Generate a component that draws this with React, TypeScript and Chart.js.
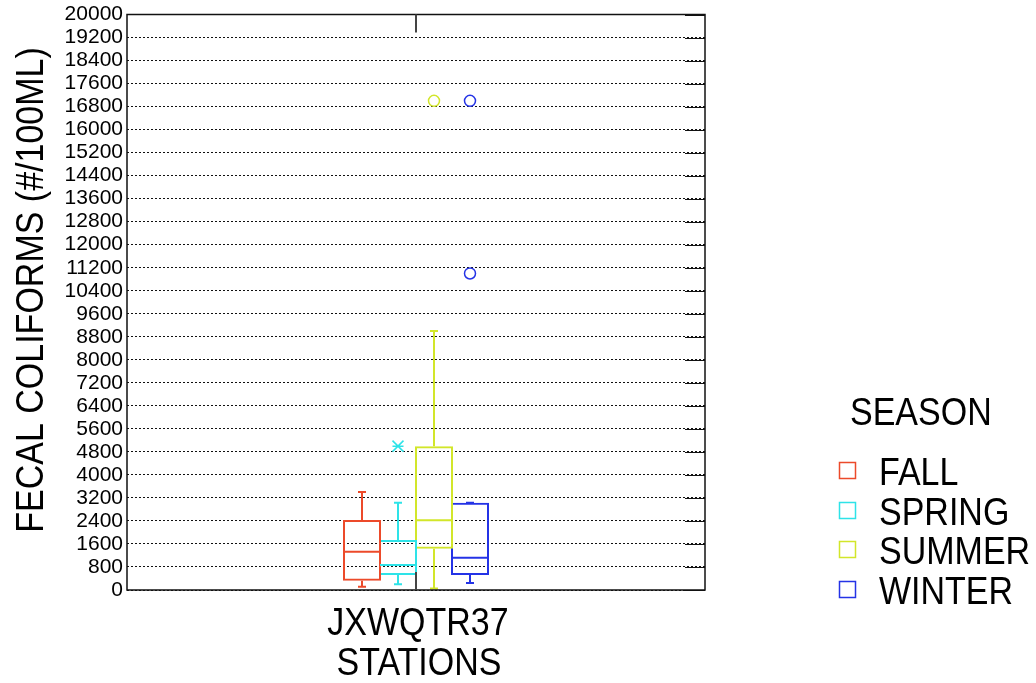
import React, { useEffect, useRef } from 'react';
import { Chart, registerables } from 'chart.js';

Chart.register(...registerables);

const categories = ['JXWQTR37'];
const seasons = ['FALL', 'SPRING', 'SUMMER', 'WINTER'];
const seasonColors = ['#ec4a2a', '#2ee3e8', '#d2e62a', '#2433e6'];
const whiskerLow = [115, 200, 50, 240];
const q1 = [320, 520, 1430, 520];
const median = [1330, 870, 2420, 1120];
const q3 = [2430, 1740, 5000, 3030];
const whiskerHigh = [3410, 3030, 9000, 3030];
const outliers: number[][] = [[], [5000], [17000], [17000, 11000]];
const outlierMarks: string[][] = [[], ['star'], ['circle'], ['circle', 'circle']];
const yTicks = [
  0, 800, 1600, 2400, 3200, 4000, 4800, 5600, 6400, 7200, 8000, 8800, 9600,
  10400, 11200, 12000, 12800, 13600, 14400, 15200, 16000, 16800, 17600, 18400,
  19200, 20000,
];
const xTitle = 'STATIONS';
const yTitle = 'FECAL COLIFORMS (#/100ML)';
const legendTitle = 'SEASON';

const FONT = "'Liberation Sans', Arial, sans-serif";
const STRETCH = 1.15;

function stretchedText(ctx: CanvasRenderingContext2D, text: string, x: number, y: number, align: CanvasTextAlign, rotate = 0) {
  ctx.save();
  ctx.translate(x, y);
  if (rotate) ctx.rotate(rotate);
  ctx.scale(1, STRETCH);
  ctx.font = `34px ${FONT}`;
  ctx.fillStyle = '#000';
  ctx.textAlign = align;
  ctx.textBaseline = 'alphabetic';
  ctx.fillText(text, 0, 0);
  ctx.restore();
}

const boxPlugin = {
  id: 'boxExtras',
  afterDatasetsDraw(chart: any) {
    const ctx: CanvasRenderingContext2D = chart.ctx;
    const ys = chart.scales.y;
    seasons.forEach((_s, i) => {
      const bar = chart.getDatasetMeta(i).data[0];
      if (!bar) return;
      const x = Math.round(bar.x);
      const half = bar.width / 2 - 1;
      const col = seasonColors[i];
      ctx.save();
      ctx.strokeStyle = col;
      ctx.lineWidth = 2;
      const ym = ys.getPixelForValue(median[i]);
      ctx.beginPath();
      ctx.moveTo(x - half, ym);
      ctx.lineTo(x + half, ym);
      ctx.stroke();
      const yq1 = ys.getPixelForValue(q1[i]);
      const yq3 = ys.getPixelForValue(q3[i]);
      const ylo = ys.getPixelForValue(whiskerLow[i]);
      const yhi = ys.getPixelForValue(whiskerHigh[i]);
      ctx.beginPath();
      ctx.moveTo(x, yq3);
      ctx.lineTo(x, yhi);
      ctx.moveTo(x, yq1);
      ctx.lineTo(x, ylo);
      ctx.moveTo(x - 4, yhi);
      ctx.lineTo(x + 4, yhi);
      ctx.moveTo(x - 4, ylo);
      ctx.lineTo(x + 4, ylo);
      ctx.stroke();
      ctx.lineWidth = 1.5;
      outliers[i].forEach((v, k) => {
        const yo = ys.getPixelForValue(v);
        const mark = outlierMarks[i][k];
        ctx.beginPath();
        if (mark === 'circle') {
          ctx.arc(x, yo, 5.5, 0, Math.PI * 2);
        } else {
          const r = 5.5;
          ctx.moveTo(x - r, yo - r);
          ctx.lineTo(x + r, yo + r);
          ctx.moveTo(x - r, yo + r);
          ctx.lineTo(x + r, yo - r);
          ctx.moveTo(x - r, yo);
          ctx.lineTo(x + r, yo);
        }
        ctx.stroke();
      });
      ctx.restore();
    });
  },
  afterDraw(chart: any) {
    const ctx: CanvasRenderingContext2D = chart.ctx;
    const a = chart.chartArea;
    const ys = chart.scales.y;
    const xs = chart.scales.x;
    ctx.save();
    ctx.strokeStyle = '#111';
    ctx.lineWidth = 1.5;
    ctx.strokeRect(a.left, a.top, a.right - a.left, a.bottom - a.top);
    ctx.lineWidth = 1;
    ctx.beginPath();
    yTicks.forEach((v) => {
      const yy = Math.round(ys.getPixelForValue(v)) + 0.5;
      ctx.moveTo(a.right - 20, yy);
      ctx.lineTo(a.right, yy);
    });
    ctx.stroke();
    const cx = Math.round(xs.getPixelForValue(0));
    ctx.strokeStyle = '#444';
    ctx.lineWidth = 2;
    ctx.beginPath();
    ctx.moveTo(cx, a.top);
    ctx.lineTo(cx, a.top + 18);
    ctx.moveTo(cx, a.bottom);
    ctx.lineTo(cx, a.bottom - 18);
    ctx.stroke();
    ctx.restore();

    stretchedText(ctx, categories[0], cx + 2, 635, 'center');
    stretchedText(ctx, xTitle, cx + 3, 675, 'center');
    stretchedText(ctx, yTitle, 43, 290, 'center', -Math.PI / 2);

    stretchedText(ctx, legendTitle, 850, 425, 'left');
    seasons.forEach((s, i) => {
      const cy = 470 + i * 39.7;
      ctx.save();
      ctx.strokeStyle = seasonColors[i];
      ctx.lineWidth = 1.5;
      ctx.strokeRect(839.5, Math.round(cy - 8) + 0.5, 16, 16);
      ctx.restore();
      stretchedText(ctx, s, 879, cy + 15, 'left');
    });
  },
};

export default function App() {
  const ref = useRef<HTMLCanvasElement | null>(null);
  useEffect(() => {
    if (!ref.current) return;
    const chart = new Chart(ref.current, {
      type: 'bar',
      data: {
        labels: categories,
        datasets: seasons.map((s, i) => ({
          label: s,
          data: [[q1[i], q3[i]]] as any,
          borderColor: seasonColors[i],
          backgroundColor: 'rgba(0,0,0,0)',
          borderWidth: 2,
          borderSkipped: false,
          categoryPercentage: 144 / 578,
          barPercentage: 38 / 36,
        })),
      },
      options: {
        animation: false,
        responsive: true,
        maintainAspectRatio: false,
        layout: { padding: { left: 0, top: 14, right: 331, bottom: 93 } },
        plugins: { legend: { display: false }, tooltip: { enabled: false } },
        scales: {
          x: { display: false, grid: { display: false } },
          y: {
            min: 0,
            max: 20000,
            afterFit: (scale: any) => {
              scale.width = 127;
            },
            afterBuildTicks: (scale: any) => {
              scale.ticks = yTicks.map((v) => ({ value: v }));
            },
            ticks: {
              autoSkip: false,
              padding: 4,
              color: '#000',
              font: { family: FONT, size: 21, lineHeight: 1 },
              callback: (v: any) => String(v),
            },
            grid: { color: '#111', lineWidth: 1, drawTicks: false },
            border: { display: false, dash: [2, 2] },
          },
        },
      },
      plugins: [boxPlugin],
    });
    return () => chart.destroy();
  }, []);
  return (
    <div style={{ position: 'fixed', left: 0, top: 0, width: 1036, height: 683, background: '#fff' }}>
      <canvas ref={ref} />
    </div>
  );
}
